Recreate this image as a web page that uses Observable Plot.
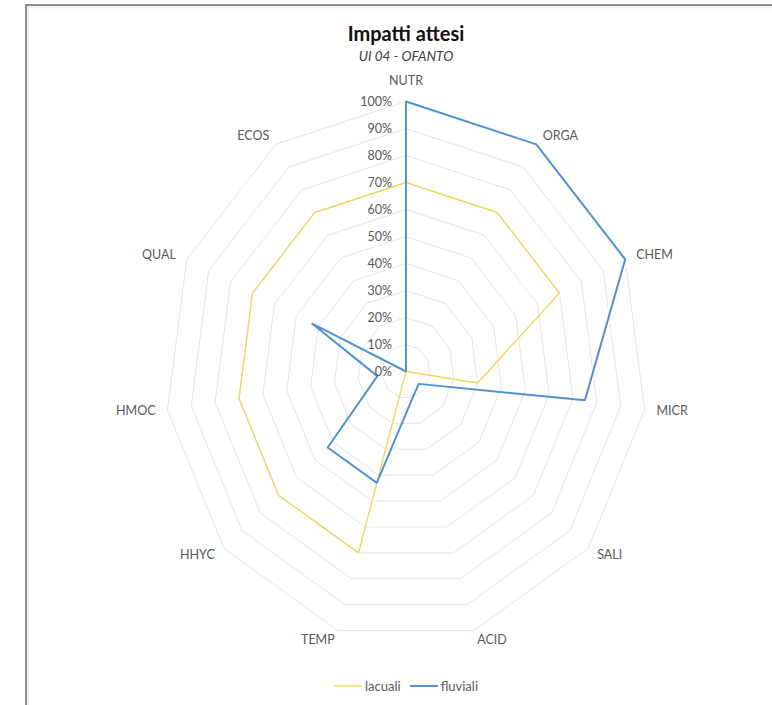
<!DOCTYPE html>
<html>
<head>
<meta charset="utf-8">
<script src="https://cdn.jsdelivr.net/npm/d3@7"></script>
<script src="https://cdn.jsdelivr.net/npm/@observablehq/plot@0.6"></script>
<style>
  html, body { margin: 0; padding: 0; background: #fff; overflow: hidden; }
  body { width: 772px; height: 705px; position: relative; font-family: Lato, "Open Sans", sans-serif; }
  #frame { position: absolute; left: 25px; top: 4px; width: 820px; height: 800px;
           border: 2px solid #8e8e8e; box-shadow: inset 2px 2px 2px #ececec; box-sizing: border-box; }
  #chart { position: absolute; left: 0; top: 0; }
  #legend { position: absolute; left: 0; top: 678px; display: flex; justify-content: center;
            gap: 8px; font-size: 13px; color: #595959; }
  #legend .item { display: flex; align-items: center; gap: 2px; }
</style>
</head>
<body>
<div id="frame"></div>
<div id="chart"></div>
<div id="legend"></div>
<script>
// Radar axes, clockwise from the top
const categories = ["NUTR", "ORGA", "CHEM", "MICR", "SALI", "ACID", "TEMP", "HHYC", "HMOC", "QUAL", "ECOS"];
// Expected impact (%) per axis
const lacuali  = [70, 70, 70, 30, 0, 0, 70, 70, 70, 70, 70];
const fluviali = [100, 100, 100, 75, 7, 10, 43, 43, 12, 43, 0];
// Radial ticks
const tickValues = [0, 10, 20, 30, 40, 50, 60, 70, 80, 90, 100];
const tickLabels = ["0%", "10%", "20%", "30%", "40%", "50%", "60%", "70%", "80%", "90%", "100%"];
const seriesNames = ["lacuali", "fluviali"];
const seriesColors = ["#f3d65c", "#5193d0"];
const seriesWidths = [1.4, 2];

const title = "Impatti attesi";
const subtitle = "UI 04 - OFANTO";

// plot geometry (pixels)
const W = 772, H = 705;
const cx = 405.5, cy = 371;
const rx = 241, ry = 270;   // horizontal / vertical radius of the 100% ring

const n = categories.length;
const angle = i => (2 * Math.PI * i) / n;

// concentric grid rings
const rings = [];
tickValues.slice(1).forEach(v => {
  for (let i = 0; i <= n; i++) {
    const a = angle(i % n);
    rings.push({level: v, x: (v / 100) * Math.sin(a), y: (v / 100) * Math.cos(a)});
  }
});

// series outlines (closed)
const series = [];
[lacuali, fluviali].forEach((vals, s) => {
  for (let i = 0; i <= n; i++) {
    const a = angle(i % n);
    const v = vals[i % n] / 100;
    series.push({name: seriesNames[s], x: v * Math.sin(a), y: v * Math.cos(a)});
  }
});

// axis labels just outside the 100% ring
const axisLabels = categories.map((c, i) => {
  const a = angle(i);
  const s = Math.sin(a), co = Math.cos(a);
  const anchor = s > 0.1 ? "start" : s < -0.1 ? "end" : "middle";
  const lx = s * (1 + 12 / rx);
  const ly = i === 0 ? 1 + 21 / ry : co * (1 + 10 / ry);
  return {label: c, x: lx, y: ly, anchor};
});

const ticks = tickValues.map((v, i) => ({y: v / 100, label: tickLabels[i]}));

const textStyle = {fill: "#595959", fontSize: 12.5};

const chart = Plot.plot({
  width: W,
  height: H,
  margin: 0,
  x: {domain: [-1, 1], range: [cx - rx, cx + rx], axis: null},
  y: {domain: [-1, 1], range: [cy + ry, cy - ry], axis: null},
  color: {domain: seriesNames, range: seriesColors},
  style: {fontFamily: "Lato, 'Open Sans', sans-serif", background: "transparent", overflow: "visible"},
  marks: [
    Plot.line(rings, {x: "x", y: "y", z: "level", stroke: "#e6e6e6", strokeWidth: 1}),
    ...seriesNames.map((name, s) =>
      Plot.line(series.filter(d => d.name === name), {x: "x", y: "y", stroke: seriesColors[s],
                strokeWidth: seriesWidths[s], strokeLinejoin: "miter"})),
    Plot.text(ticks, {x: 0, y: "y", text: "label", textAnchor: "end", dx: -14, ...textStyle}),
    Plot.text(axisLabels.filter(d => d.anchor === "start"), {x: "x", y: "y", text: "label", textAnchor: "start", ...textStyle}),
    Plot.text(axisLabels.filter(d => d.anchor === "end"), {x: "x", y: "y", text: "label", textAnchor: "end", ...textStyle}),
    Plot.text(axisLabels.filter(d => d.anchor === "middle"), {x: "x", y: "y", text: "label", textAnchor: "middle", ...textStyle}),
    Plot.text([title], {x: 0, frameAnchor: "top", lineAnchor: "middle", dy: 34, fontSize: 20, fontWeight: "bold", fill: "#111"}),
    Plot.text([subtitle], {x: 0, frameAnchor: "top", lineAnchor: "middle", dy: 56, fontSize: 13.5, fontStyle: "italic", fill: "#404040"})
  ]
});
document.getElementById("chart").appendChild(chart);

// legend
const legend = document.getElementById("legend");
legend.style.width = (2 * cx) + "px";
seriesNames.forEach((name, i) => {
  const item = document.createElement("span");
  item.className = "item";
  item.innerHTML = `<svg width="30" height="6"><line x1="1" x2="29" y1="3" y2="3" stroke="${seriesColors[i]}" stroke-width="${seriesWidths[i]}"/></svg>`;
  const lab = document.createElement("span");
  lab.textContent = name;
  item.appendChild(lab);
  legend.appendChild(item);
});
</script>
</body>
</html>
